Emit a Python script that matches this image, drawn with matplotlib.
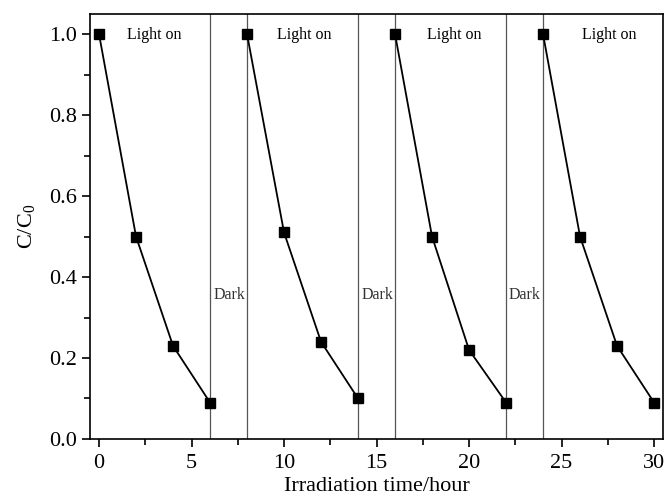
import matplotlib
matplotlib.use("Agg")
from matplotlib import pyplot as plt
from matplotlib.ticker import MultipleLocator

plt.rcParams['font.family'] = ['Liberation Serif', 'DejaVu Serif']
plt.rcParams['mathtext.fontset'] = 'custom'
plt.rcParams['mathtext.rm'] = 'Liberation Serif'

# four light cycles
cycle_times = [[0, 2, 4, 6], [8, 10, 12, 14], [16, 18, 20, 22], [24, 26, 28, 30]]
cycle_values = [[1.0, 0.50, 0.23, 0.09],
                [1.0, 0.51, 0.24, 0.10],
                [1.0, 0.50, 0.22, 0.09],
                [1.0, 0.50, 0.23, 0.09]]
boundaries = [6, 8, 14, 16, 22, 24]
dark_x = [6.2, 14.2, 22.15]
light_x = [3.0, 11.1, 19.2, 27.6]

fig = plt.figure(figsize=(6.7, 4.96), dpi=100)
ax = fig.add_axes([0.134, 0.115, 0.856, 0.857])

for b in boundaries:
    ax.axvline(b, color="#555555", lw=0.9, zorder=1)

for t, v in zip(cycle_times, cycle_values):
    ax.plot(t, v, "k-", marker="s", ms=7, lw=1.3, zorder=3)

for x in light_x:
    ax.text(x, 0.997, "Light on", fontsize=11.5, ha="center", va="center")
for x in dark_x:
    ax.text(x, 0.356, "Dark", fontsize=11.5, ha="left", va="center", color="#333333")

ax.set_xlim(-0.5, 30.5)
ax.set_ylim(0, 1.05)
ax.xaxis.set_major_locator(MultipleLocator(5))
ax.xaxis.set_minor_locator(MultipleLocator(2.5))
ax.yaxis.set_major_locator(MultipleLocator(0.2))
ax.yaxis.set_minor_locator(MultipleLocator(0.1))
ax.yaxis.set_major_formatter(plt.FormatStrFormatter("%.1f"))
ax.tick_params(which="both", direction="out", top=False, right=False, width=1.2)
ax.tick_params(which="major", length=6, labelsize=16)
ax.tick_params(axis="x", which="major", pad=5)
ax.tick_params(which="minor", length=4)
for s in ax.spines.values():
    s.set_linewidth(1.2)

ax.set_xlabel("Irradiation time/hour", fontsize=16, labelpad=3)
ax.set_ylabel("C/C$_0$", fontsize=16, labelpad=8)

fig.savefig("out.png", dpi=100)
